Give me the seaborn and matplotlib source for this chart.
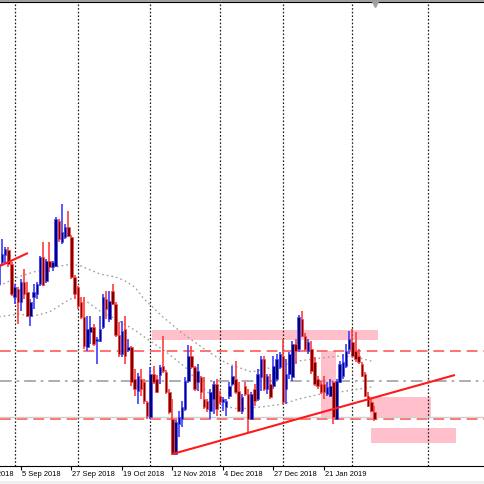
import matplotlib
matplotlib.use("Agg")
import matplotlib.pyplot as plt
import matplotlib.transforms as mtransforms
from matplotlib.patches import Rectangle
import numpy as np
import pandas as pd
import seaborn as sns

# daily candles, bar 0 = 27 Aug 2018 (price units, no scale shown)
opens = [185, 207, 214, 219, 205, 172, 180, 167, 187, 177,
         153, 172, 175, 185, 212, 188, 208, 202, 203, 248,
         227, 232, 242, 232, 192, 182, 167, 152, 122, 137,
         142, 128, 128, 142, 170, 150, 178, 165, 134, 115,
         140, 119, 122, 90, 78, 90, 87, 67, 52, 95,
         90, 94, 103, 97, 77, 50, 15, 45, 50, 60,
         88, 113, 102, 87, 92, 70, 68, 58, 70, 85,
         73, 67, 62, 73, 85, 90, 78, 58, 83, 75,
         50, 80, 70, 92, 110, 80, 85, 83, 90, 102,
         113, 80, 95, 92, 125, 120, 150, 133, 118, 120,
         107, 90, 85, 85, 75, 73, 87, 50, 87, 93,
         103, 120, 127, 118, 113, 105, 95, 73, 67, 57]
highs = [208, 230, 222, 222, 207, 185, 182, 190, 200, 187,
         170, 185, 187, 213, 227, 210, 227, 208, 252, 250,
         265, 245, 258, 234, 194, 183, 172, 172, 153, 153,
         145, 132, 153, 175, 178, 178, 185, 167, 147, 148,
         153, 130, 123, 100, 96, 100, 90, 68, 102, 103,
         94, 104, 133, 99, 80, 70, 49, 58, 68, 92,
         124, 123, 103, 105, 93, 92, 70, 80, 88, 90,
         78, 72, 70, 87, 103, 108, 87, 75, 87, 80,
         77, 85, 100, 113, 113, 95, 95, 113, 115, 117,
         130, 110, 117, 128, 130, 154, 158, 136, 130, 128,
         112, 93, 88, 93, 87, 90, 88, 90, 108, 115,
         125, 138, 140, 137, 120, 107, 97, 77, 70, 63]
lows = [175, 203, 205, 202, 173, 165, 145, 158, 170, 152,
        143, 160, 170, 183, 183, 186, 197, 198, 202, 227,
        225, 230, 232, 190, 170, 160, 150, 120, 118, 125,
        123, 105, 127, 140, 150, 147, 164, 132, 112, 112,
        105, 117, 83, 73, 65, 73, 65, 50, 50, 85,
        76, 85, 96, 75, 55, 14, 14, 32, 42, 58,
        86, 100, 78, 78, 70, 60, 57, 50, 55, 53,
        65, 58, 53, 70, 83, 75, 57, 55, 73, 37,
        49, 63, 68, 78, 78, 75, 70, 80, 88, 100,
        65, 65, 90, 88, 105, 117, 132, 118, 115, 95,
        83, 80, 75, 70, 73, 72, 45, 49, 86, 90,
        101, 115, 113, 107, 105, 92, 72, 62, 57, 48]
closes = [205, 215, 220, 205, 175, 182, 167, 187, 175, 153,
          167, 177, 185, 212, 184, 208, 202, 207, 250, 230,
          237, 242, 233, 192, 175, 163, 152, 123, 140, 142,
          125, 130, 140, 172, 160, 168, 165, 134, 115, 138,
          113, 122, 87, 80, 93, 80, 68, 53, 95, 87,
          77, 102, 98, 77, 57, 15, 47, 52, 62, 88,
          113, 102, 80, 98, 77, 62, 60, 77, 85, 60,
          67, 70, 68, 83, 93, 77, 58, 72, 75, 50,
          75, 68, 95, 110, 80, 93, 72, 103, 110, 115,
          67, 95, 115, 125, 118, 152, 133, 120, 127, 98,
          85, 83, 77, 77, 82, 83, 52, 88, 105, 107,
          118, 130, 113, 110, 107, 93, 73, 63, 58, 50]

# two moving averages (gray dotted), read at some bars
ma_slow_bars = [0, 6, 11, 18, 23, 26, 32, 37, 40, 43, 46, 52, 58, 66, 72, 80, 90, 95, 102, 108, 113, 118]
ma_slow_vals = [183, 192, 197, 202, 205, 203, 195, 192, 188, 182, 170, 152, 136, 118, 106, 97, 104, 108, 111, 113, 112, 108]
ma_fast_bars = [0, 6, 11, 16, 21, 24, 28, 32, 37, 43, 47, 53, 59, 65, 71, 76, 83, 90, 95, 102, 108, 118]
ma_fast_vals = [152, 155, 153, 157, 167, 172, 167, 158, 150, 139, 130, 117, 102, 80, 63, 60, 62, 65, 70, 75, 77, 82]

# drawn objects
red_levels = [118, 50]
gray_dashdot_level = 88
gray_solid_level = 52
zones = [(48.5, 120.1, 129, 139), (102.1, 106.8, 50, 118),
         (117.6, 136.9, 51, 72), (117.9, 144.8, 26, 41)]
trend_lines = [((0.35, 203), (9.2, 216)), ((55, 15), (144.5, 94))]
separators = [5, 25, 48, 70, 90, 112, 136]

tick_bars = [-9, 7, 23, 39, 55, 71, 87, 103]
tick_labels = ['14 Aug 2018', '5 Sep 2018', '27 Sep 2018', '19 Oct 2018',
               '12 Nov 2018', '4 Dec 2018', '27 Dec 2018', '21 Jan 2019']

sns.set_style('white')
plt.rcParams['font.family'] = ['Liberation Sans', 'DejaVu Sans']

fig = plt.figure(figsize=(4.85, 4.85), dpi=100)
ax = fig.add_axes([0, 18 / 485, 1, 464 / 485])

for x0, x1, lo, hi in zones:
    ax.add_patch(Rectangle((x0, lo), x1 - x0, hi - lo, facecolor='#ffc0cb', edgecolor='none', zorder=1))

for s in separators:
    ax.axvline(s, color='#1a1a1a', lw=0.9, ls=(0, (1.3, 1.6)), zorder=2)

for lv in red_levels:
    ax.axhline(lv, color='#ff5a5a', lw=1.2, ls=(0, (6.5, 3.5)), zorder=2)
ax.axhline(gray_dashdot_level, color='#a0a0a0', lw=1.2, ls=(0, (7, 3, 1.5, 3)), zorder=2)
ax.axhline(gray_solid_level, color='#d0d0d0', lw=1.0, zorder=2)

sns.lineplot(x=ma_slow_bars, y=ma_slow_vals, ax=ax, color='#a0a0a0', lw=1.0, linestyle=(0, (1.2, 2.2)), zorder=3)
sns.lineplot(x=ma_fast_bars, y=ma_fast_vals, ax=ax, color='#a0a0a0', lw=1.0, linestyle=(0, (1.2, 2.2)), zorder=3)

o = np.array(opens, float)
h = np.array(highs, float)
l = np.array(lows, float)
c = np.array(closes, float)
x = np.arange(len(o))
bull = c >= o
bear = ~bull

ax.vlines(x[bull], l[bull], h[bull], color='#3c3cff', lw=1.2, zorder=4)
ax.vlines(x[bear], l[bear], h[bear], color='#ff3c3c', lw=1.2, zorder=4)
ax.bar(x[bull], (c - o)[bull], bottom=o[bull], width=0.8, color='#00007a',
       edgecolor='#4a4aff', lw=0.5, zorder=5)
ax.bar(x[bear], (c - o)[bear], bottom=o[bear], width=0.8, color='#7a0000',
       edgecolor='#ff4a4a', lw=0.5, zorder=5)

for (xa, ya), (xb, yb) in trend_lines:
    ax.plot([xa, xb], [ya, yb], color='#ff1a1a', lw=1.5, zorder=6, solid_capstyle='butt')

# chart shift marker
ax.plot([119.2], [465], marker='v', color='#a0a0a0', ms=4, clip_on=False, zorder=7)

ax.set_xlim(0.349, 154.02)
ax.set_ylim(3, 467)
ax.set_yticks([])
ax.set_xticks([b for b in tick_bars if b > 0])
ax.set_xticklabels([])
ax.tick_params(axis='x', direction='out', length=3, width=0.8, color='black', bottom=True)
for side in ['left', 'right']:
    ax.spines[side].set_visible(False)
for side in ['top', 'bottom']:
    ax.spines[side].set_color('black')
    ax.spines[side].set_linewidth(0.8)

trans = mtransforms.blended_transform_factory(ax.transData, ax.transAxes)
for b, lab in zip(tick_bars, tick_labels):
    ax.text(b + 0.25, -7.5 / 464, lab, transform=trans, ha='left', va='center',
            fontsize=5.4, color='black', clip_on=False)

fig.patches.append(Rectangle((0, 1 - 2.5 / 485), 1, 2.5 / 485, transform=fig.transFigure,
                             facecolor='#a0a0a0', edgecolor='none'))
fig.patches.append(Rectangle((0, 0), 1, 3 / 485, transform=fig.transFigure,
                             facecolor='#f0f0f0', edgecolor='none'))

fig.savefig('out.png', dpi=100)
